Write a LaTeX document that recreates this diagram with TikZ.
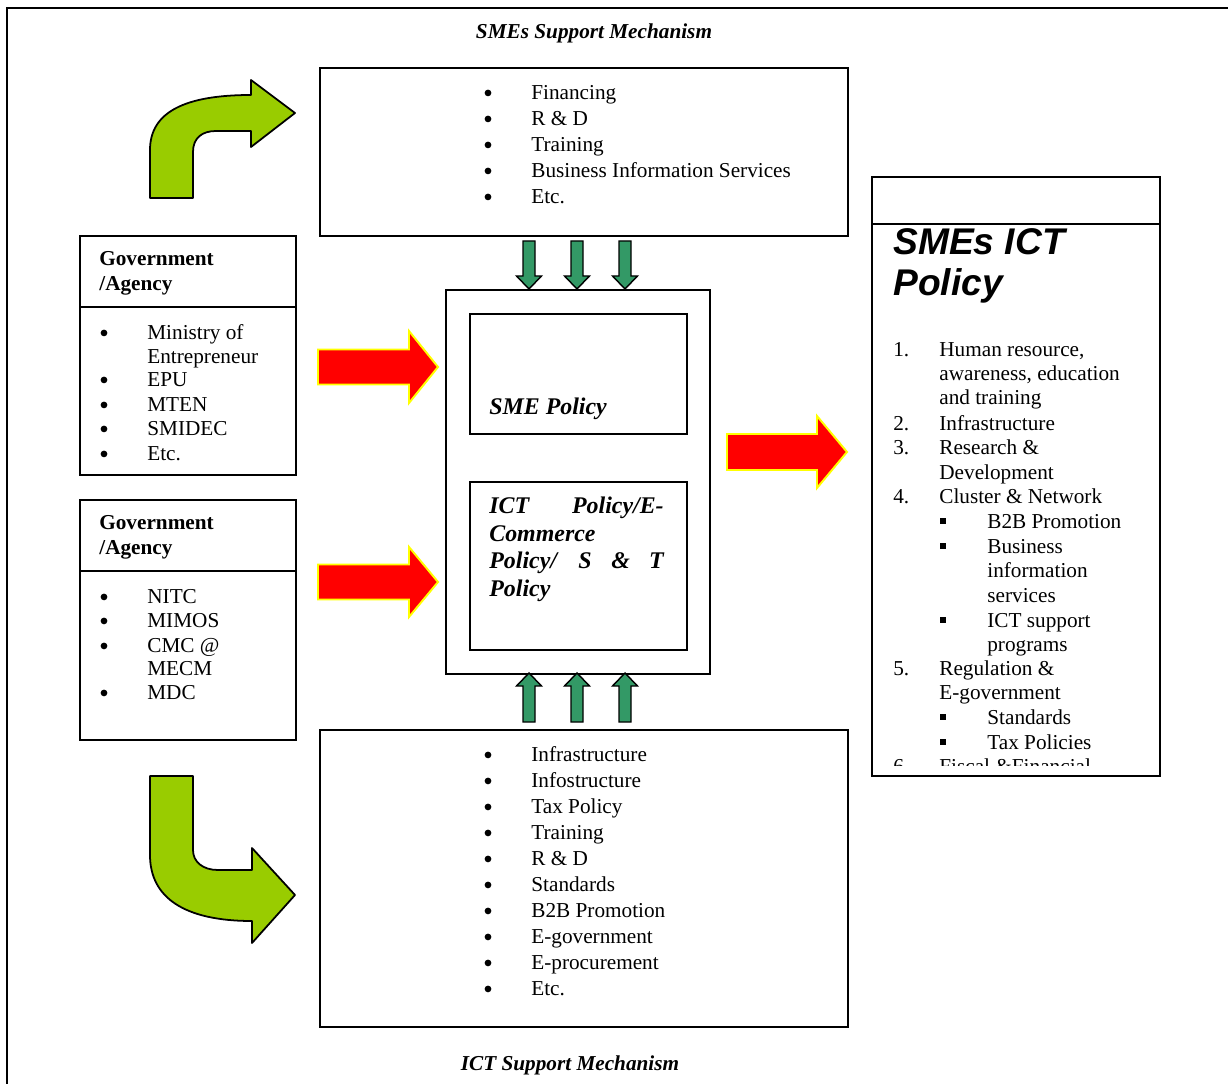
\documentclass[tikz,border=0pt]{standalone}
\usepackage{fontspec}
\setmainfont{Liberation Serif}
\newfontfamily\headfont{Liberation Sans}
\definecolor{leaf}{HTML}{99CC00}
\definecolor{sea}{HTML}{339966}
\definecolor{alarm}{HTML}{FF0000}
\definecolor{rim}{HTML}{FFFF00}

% vertical block arrow: x centre, tail y, head-base y, tip y
\newcommand\vblock[4]{%
  \draw[seaarrow] (#1-6,#2) -- (#1+6,#2) -- (#1+6,#3) -- (#1+12.5,#3) -- (#1,#4)
    -- (#1-12.5,#3) -- (#1-6,#3) -- cycle;}
% horizontal block arrow: tail x, centre y, head-base x, tip x, shaft half, head half
\newcommand\hblock[6]{%
  \draw[redarrow] (#1,#2-#5) -- (#3,#2-#5) -- (#3,#2-#6) -- (#4,#2)
    -- (#3,#2+#6) -- (#3,#2+#5) -- (#1,#2+#5) -- cycle;}

\begin{document}
\begin{tikzpicture}[x=0.565pt,y=-0.565pt,
  box/.style={draw, line width=1.1pt, inner sep=0pt, anchor=north west},
  txt/.style={inner sep=0pt, anchor=base west, yshift=-1.1pt, font=\fontsize{12}{14}\selectfont},
  bold/.style={txt, font=\fontsize{12}{14}\selectfont\bfseries},
  bit/.style={txt, font=\fontsize{13.5}{16}\selectfont\bfseries\itshape},
  dot/.style={circle, fill=black, inner sep=0pt, minimum size=3.8pt, yshift=-1.1pt+7*0.565pt},
  sq/.style={fill=black, inner sep=0pt, minimum size=3.7pt},
  seaarrow/.style={draw=black, fill=sea, line width=0.8pt, line join=miter},
  redarrow/.style={draw=rim, fill=alarm, line width=1.1pt, line join=miter},
  leafarrow/.style={draw=black, fill=leaf, line width=1pt, line join=round}]
\useasboundingbox (0,0) rectangle (1228,1084);

% outer frame (left and top edges)
\draw[line width=1.5pt] (7,1084) -- (7,8) -- (1228,8);

% titles
\node[txt, anchor=base, font=\fontsize{12}{14}\selectfont\bfseries\itshape] (ttop) at (594,37) {SMEs Support Mechanism};
\node[txt, anchor=base, font=\fontsize{12}{14}\selectfont\bfseries\itshape] (tbot) at (570,1069) {ICT Support Mechanism};

% SME support box
\node[box, minimum width=528*0.565pt, minimum height=168*0.565pt] (smebox) at (319,67) {};
\foreach \t [count=\i from 0] in {Financing, R \& D, Training, Business Information Services, Etc.}{
  \node[dot] (sd\i) at (488,98+26*\i) {};
  \node[txt] (st\i) at (531,98+26*\i) {\t};
}

% ICT support box
\node[box, minimum width=528*0.565pt, minimum height=297*0.565pt] (ictbox) at (319,729) {};
\foreach \t [count=\i from 0] in {Infrastructure, Infostructure, Tax Policy, Training, R \& D, Standards, B2B Promotion, E-government, E-procurement, Etc.}{
  \node[dot] (id\i) at (488,760+26*\i) {};
  \node[txt] (it\i) at (531,760+26*\i) {\t};
}

% government / agency box 1
\node[box, minimum width=216*0.565pt, minimum height=239*0.565pt] (gov1) at (79,235) {};
\draw[line width=1.1pt] (79,307) -- (295,307);
\node[bold] (g1a) at (99,264) {Government};
\node[bold] (g1b) at (99,289) {/Agency};
\foreach \y/\t in {338/Ministry of, 385/EPU, 410/MTEN, 434/SMIDEC, 459/Etc.}{
  \node[dot] at (104,\y) {};
  \node[txt] at (147,\y) {\t};
}
\node[txt] (g1e) at (147,362) {Entrepreneur};

% government / agency box 2
\node[box, minimum width=216*0.565pt, minimum height=240*0.565pt] (gov2) at (79,499) {};
\draw[line width=1.1pt] (79,571) -- (295,571);
\node[bold] (g2a) at (99,528) {Government};
\node[bold] (g2b) at (99,553) {/Agency};
\foreach \y/\t in {602/NITC, 626/MIMOS, 651/CMC @, 698/MDC}{
  \node[dot] at (104,\y) {};
  \node[txt] at (147,\y) {\t};
}
\node[txt] (g2e) at (147,674) {MECM};

% central policy box
\node[box, minimum width=264*0.565pt, minimum height=384*0.565pt] (core) at (445,289) {};
\node[box, minimum width=217*0.565pt, minimum height=120*0.565pt] (smep) at (469,313) {};
\node[box, minimum width=217*0.565pt, minimum height=168*0.565pt] (ictp) at (469,481) {};
\node[bit] (smept) at (489,413) {SME Policy};
\node[bit] (ip1) at (489,512) {ICT};
\node[bit, anchor=base east] (ip2) at (664,512) {Policy/E-};
\node[bit] (ip3) at (489,540) {Commerce};
\node[bit] (ip4) at (489,567) {Policy/};
\node[bit] (ip5) at (578,567) {S};
\node[bit] (ip6) at (611,567) {\&};
\node[bit, anchor=base east] (ip7) at (664,567) {T};
\node[bit] (ip8) at (489,595) {Policy};

% SMEs ICT policy box
\node[box, minimum width=288*0.565pt, minimum height=599*0.565pt] (pol) at (871,176) {};
\draw[line width=1.1pt] (871,224) -- (1159,224);
\node[txt, font=\fontsize{21}{20}\selectfont\headfont\bfseries\itshape] (ph1) at (893,253) {SMEs ICT};
\node[txt, font=\fontsize{21}{20}\selectfont\headfont\bfseries\itshape] (ph2) at (893,294) {Policy};
\begin{scope}
  \clip (871,224) rectangle (1159,765);
  \foreach \y/\n/\t in {355/1./{Human resource,}, 379//{awareness, education}, 403//and training,
      429/2./Infrastructure, 453/3./Research \&, 478//Development, 502/4./Cluster \& Network,
      674/5./Regulation \&, 698//E-government, 772/6./Fiscal \&Financial}{
    \node[txt] at (893,\y) {\n};
    \node[txt] at (939,\y) {\t};
  }
  \foreach \y/\b/\t in {527/1/B2B Promotion, 552/1/Business, 576/0/information, 601/0/services,
      626/1/ICT support, 650/0/programs, 723/1/Standards, 748/1/Tax Policies}{
    \ifnum\b=1 \node[sq] at (943,\y-6) {};\fi
    \node[txt] at (987,\y) {\t};
  }
\end{scope}

% flows into and out of the policy box
\hblock{318}{367}{409}{438}{17.5}{36}
\hblock{318}{582}{409}{438}{17.5}{35}
\hblock{727}{452}{817}{847}{18}{36}
\foreach \x in {529,577,625}{
  \vblock{\x}{241}{276}{289}
  \vblock{\x}{722}{686}{673}
}

% curved arrows from the support mechanisms
\draw[leafarrow] (150,198) -- (150,150) .. controls (150,112) and (185,95) .. (251,95)
  -- (251,80) -- (295,113) -- (251,147) -- (251,131) -- (216,131)
  .. controls (202,131) and (193,138) .. (193,152) -- (193,198) -- cycle;
\draw[leafarrow] (150,776) -- (193,776) -- (193,850)
  .. controls (193,862) and (203,870) .. (218,870) -- (252,870) -- (252,848)
  -- (295,895) -- (252,943) -- (252,921) .. controls (185,921) and (150,898) .. (150,855)
  -- cycle;
\end{tikzpicture}
\end{document}
